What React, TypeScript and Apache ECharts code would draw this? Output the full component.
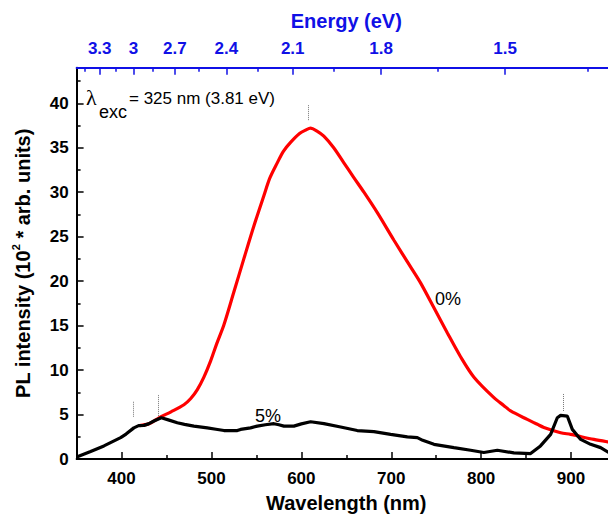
import React, { useEffect, useRef } from "react";
import * as echarts from "echarts";

// ---- data ----
const wl5 = [350.8, 365.6, 380.4, 399, 405, 413.7, 419, 424.9, 430, 436, 444.2, 452, 462, 470, 480.5, 495.4, 505, 513.9, 528.8, 532.4, 543.5, 551, 560, 569.5, 575, 580.6, 591.7, 600, 610.3, 625.1, 643.7, 662.2, 680.7, 699.3, 717.9, 729, 735, 747.5, 769.7, 788.3, 803, 818, 836.4, 855, 866, 877.3, 884.7, 888.4, 895.8, 901.4, 910.7, 921.8, 932.9, 941.8, 948];
const pl5 = [0.25, 0.84, 1.47, 2.4, 2.8, 3.5, 3.75, 3.78, 3.95, 4.27, 4.64, 4.4, 4.08, 3.9, 3.7, 3.5, 3.35, 3.2, 3.2, 3.33, 3.5, 3.7, 3.85, 3.97, 3.85, 3.7, 3.7, 3.95, 4.19, 3.97, 3.6, 3.2, 3.07, 2.77, 2.48, 2.4, 2.1, 1.65, 1.28, 0.98, 0.73, 0.98, 0.69, 0.61, 1.47, 2.77, 4.64, 4.9, 4.83, 3.33, 2.2, 1.65, 1.28, 0.73, 0.5];

const wl0 = [420, 430, 436, 444, 455, 469.4, 477, 484.3, 491.6, 499, 506, 513.9, 525, 536, 547.2, 558.3, 565, 573.2, 580, 588, 598, 605, 610.3, 617, 625, 636, 647.3, 658, 669.6, 684.5, 703, 721.5, 732.6, 747.5, 762.3, 777.1, 792, 814.2, 825.4, 832.8, 851.3, 862.5, 869.8, 888.4, 899.5, 907, 925.4, 941.8, 948];
const pl0 = [3.75, 3.95, 4.27, 4.75, 5.3, 6.1, 6.8, 7.8, 9.2, 11.0, 13.0, 15.1, 18.8, 22.5, 26.2, 29.6, 31.6, 33.3, 34.6, 35.6, 36.6, 37.0, 37.2, 36.9, 36.3, 35.0, 33.3, 31.7, 30.0, 27.7, 24.6, 21.6, 19.8, 17.0, 14.2, 11.5, 9.2, 6.9, 6.0, 5.4, 4.45, 3.9, 3.55, 2.96, 2.77, 2.6, 2.2, 1.9, 1.8];

const wlMajor = [400, 500, 600, 700, 800, 900];
const wlMinor = [450, 550, 650, 750, 850, 950];
const yMajor = [0, 5, 10, 15, 20, 25, 30, 35, 40];
const yMinor = [2.5, 7.5, 12.5, 17.5, 22.5, 27.5, 32.5, 37.5, 42.5];
const energyMajor = [3.3, 3.0, 2.7, 2.4, 2.1, 1.8, 1.5];
const energyMinor = [3.45, 3.15, 2.85, 2.55, 2.25, 1.95, 1.65, 1.35];
const HC = 1239.84;

const markerWl = [413, 441, 608, 891];
const markerLow = [4.75, 4.85, 38.1, 5.4];
const markerHigh = [6.5, 7.2, 39.8, 7.4];

const FONT = "'Liberation Sans', Arial, sans-serif";
const BLUE = "#1010e6";

export default function App() {
  const ref = useRef<HTMLDivElement>(null);
  useEffect(() => {
    document.body.style.margin = "0";
    const chart = echarts.init(ref.current!, null, { renderer: "svg" });
    const toWl = (e: number) => HC / e;
    const tickLabel = { fontFamily: FONT, fontWeight: "bold" as const, fontSize: 17, color: "#000" };
    const option: any = {
      animation: false,
      backgroundColor: "#fff",
      grid: { left: 76.6, right: 24, top: 67.7, bottom: 56.3, containLabel: false },
      xAxis: [
        {
          type: "value", min: 350, max: 950, position: "bottom",
          name: "Wavelength (nm)", nameLocation: "middle", nameGap: 34,
          nameTextStyle: { fontFamily: FONT, fontWeight: "bold", fontSize: 20, color: "#000" },
          axisLine: { onZero: false, lineStyle: { color: "#000", width: 2 } },
          axisTick: { inside: true, length: 7, customValues: wlMajor, lineStyle: { color: "#000", width: 1.5 } },
          axisLabel: { ...tickLabel, customValues: wlMajor, margin: 11 },
          splitLine: { show: false },
        },
        {
          type: "value", min: 350, max: 950, position: "bottom",
          axisLine: { show: false, onZero: false },
          axisTick: { inside: true, length: 4, customValues: wlMinor, lineStyle: { color: "#000", width: 1.5 } },
          axisLabel: { show: false },
          splitLine: { show: false },
        },
        {
          type: "value", min: 350, max: 950, position: "top",
          name: "Energy (eV)", nameLocation: "middle", nameGap: 37,
          nameTextStyle: { fontFamily: FONT, fontWeight: "bold", fontSize: 20, color: BLUE },
          axisLine: { onZero: false, lineStyle: { color: BLUE, width: 2 } },
          axisTick: { inside: true, length: 7, customValues: energyMajor.map(toWl), lineStyle: { color: BLUE, width: 1.5 } },
          axisLabel: {
            ...tickLabel, color: BLUE, margin: 11,
            customValues: energyMajor.map(toWl),
            formatter: (v: number) => String(Math.round((HC / v) * 100) / 100),
          },
          splitLine: { show: false },
        },
        {
          type: "value", min: 350, max: 950, position: "top",
          axisLine: { show: false, onZero: false },
          axisTick: { inside: true, length: 4, customValues: energyMinor.map(toWl), lineStyle: { color: BLUE, width: 1.5 } },
          axisLabel: { show: false },
          splitLine: { show: false },
        },
      ],
      yAxis: [
        {
          type: "value", min: 0, max: 44, position: "left",
          name: "PL intensity (10{sup|2} * arb. units)", nameLocation: "middle", nameRotate: 90, nameGap: 42,
          nameTextStyle: {
            fontFamily: FONT, fontWeight: "bold", fontSize: 20, color: "#000", lineHeight: 24,
            rich: { sup: { fontFamily: FONT, fontWeight: "bold", fontSize: 11, color: "#000", verticalAlign: "top", lineHeight: 12 } },
          },
          axisLine: { onZero: false, lineStyle: { color: "#000", width: 2 } },
          axisTick: { inside: true, length: 7, customValues: yMajor, lineStyle: { color: "#000", width: 1.5 } },
          axisLabel: { ...tickLabel, customValues: yMajor, margin: 8 },
          splitLine: { show: false },
        },
        {
          type: "value", min: 0, max: 44, position: "left",
          axisLine: { show: false, onZero: false },
          axisTick: { inside: true, length: 4, customValues: yMinor, lineStyle: { color: "#000", width: 1.5 } },
          axisLabel: { show: false },
          splitLine: { show: false },
        },
      ],
      series: [
        {
          type: "line", name: "0%", xAxisIndex: 0, yAxisIndex: 0,
          data: wl0.map((x, i) => [x, pl0[i]]),
          showSymbol: false, symbol: "none", smooth: 0.3,
          lineStyle: { color: "#ff0000", width: 3.2 }, itemStyle: { color: "#ff0000" },
        },
        {
          type: "line", name: "5%", xAxisIndex: 0, yAxisIndex: 0,
          data: wl5.map((x, i) => [x, pl5[i]]),
          showSymbol: false, symbol: "none",
          lineStyle: { color: "#000", width: 3.2 }, itemStyle: { color: "#000" },
          markLine: {
            silent: true, symbol: ["none", "none"], label: { show: false },
            lineStyle: { type: "dotted", color: "#777", width: 1 },
            data: markerWl.map((x, i) => [{ coord: [x, markerLow[i]] }, { coord: [x, markerHigh[i]] }]),
          },
        },
      ],
      graphic: [
        { type: "text", left: 86, top: 86, style: { text: "λ", fontFamily: "'Liberation Serif', serif", fontSize: 22, fill: "#000" } },
        { type: "text", left: 99, top: 103, style: { text: "exc", fontFamily: FONT, fontSize: 18, fill: "#000" } },
        { type: "text", left: 129, top: 90, style: { text: "= 325 nm (3.81 eV)", fontFamily: FONT, fontSize: 17, fill: "#000" } },
        { type: "text", left: 435, top: 290, style: { text: "0%", fontFamily: FONT, fontSize: 18, fill: "#000" } },
        { type: "text", left: 255, top: 407, style: { text: "5%", fontFamily: FONT, fontSize: 18, fill: "#000" } },
      ],
    };
    chart.setOption(option);
    return () => chart.dispose();
  }, []);
  return (
    <div style={{ position: "fixed", left: 0, top: 0, width: 608, height: 518, overflow: "hidden", background: "#fff" }}>
      <div ref={ref} style={{ width: 640, height: 518 }} />
    </div>
  );
}
